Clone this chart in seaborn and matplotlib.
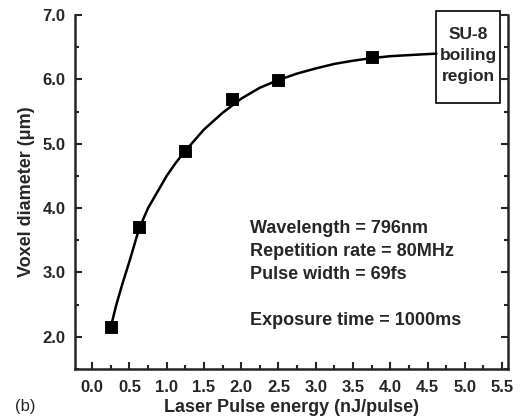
import matplotlib
matplotlib.use("Agg")
import matplotlib.pyplot as plt
from matplotlib.patches import Rectangle
from matplotlib.ticker import MultipleLocator, FormatStrFormatter
import pandas as pd
import seaborn as sns

# measured points
energy = [0.25, 0.63, 1.25, 1.88, 2.5, 3.75]
diameter = [2.15, 3.70, 4.89, 5.69, 5.99, 6.34]

# fitted curve
curve_x = [0.25, 0.32, 0.40, 0.50, 0.63, 0.75, 0.90, 1.00, 1.12, 1.25, 1.50, 1.75,
           2.00, 2.25, 2.50, 2.75, 3.00, 3.25, 3.50, 3.75, 4.00, 4.30, 4.62]
curve_y = [2.15, 2.48, 2.80, 3.17, 3.68, 4.00, 4.30, 4.50, 4.70, 4.89, 5.22, 5.48,
           5.70, 5.87, 5.99, 6.09, 6.17, 6.24, 6.29, 6.33, 6.36, 6.38, 6.40]

params_text = ("Wavelength = 796nm\nRepetition rate = 80MHz\n"
               "Pulse width = 69fs\n\nExposure time = 1000ms")

sns.set_style("ticks")
plt.rcParams['font.family'] = ['Liberation Sans', 'DejaVu Sans']

fig = plt.figure(figsize=(5.26, 4.17), dpi=100)
ax = fig.add_axes([75 / 526, 48 / 417, 433 / 526, 354 / 417])

pts = pd.DataFrame({"x": energy, "y": diameter})
fit = pd.DataFrame({"x": curve_x, "y": curve_y})

sns.lineplot(data=fit, x="x", y="y", ax=ax, color="black", linewidth=1.8, sort=True)
sns.scatterplot(data=pts, x="x", y="y", ax=ax, marker="s", s=65, color="black",
                edgecolor="black", zorder=5)

ax.set_xlim(-0.23, 5.58)
ax.set_ylim(1.5, 7.0)
ax.xaxis.set_major_locator(MultipleLocator(0.5))
ax.xaxis.set_minor_locator(MultipleLocator(0.25))
ax.yaxis.set_major_locator(MultipleLocator(1.0))
ax.yaxis.set_minor_locator(MultipleLocator(0.5))
ax.xaxis.set_major_formatter(FormatStrFormatter("%.1f"))
ax.yaxis.set_major_formatter(FormatStrFormatter("%.1f"))

ax.tick_params(which="both", direction="in", right=True, top=False, width=1.5,
               labelsize=12)
ax.tick_params(which="major", length=5)
ax.tick_params(which="minor", length=3)
ax.tick_params(axis="x", which="major", pad=8)
ax.tick_params(axis="y", which="major", pad=7)
for lab in ax.get_xticklabels() + ax.get_yticklabels():
    lab.set_fontweight("bold")

for side in ["left", "right", "bottom"]:
    ax.spines[side].set_linewidth(1.8)
ax.spines["top"].set_visible(False)

ax.set_xlabel("Laser Pulse energy (nJ/pulse)", fontsize=13, fontweight="bold",
              labelpad=3)
ax.set_ylabel("Voxel diameter (\u03bcm)", fontsize=13, fontweight="bold",
              labelpad=5)

ax.text(2.12, 3.82, params_text, fontsize=13, fontweight="bold", va="top",
        ha="left", linespacing=1.47)

ax.add_patch(Rectangle((4.62, 5.64), 0.85, 1.42, fill=False, edgecolor="black",
                       linewidth=1.2, clip_on=False, zorder=6))
ax.text(5.045, 6.37, "SU-8\nboiling\nregion", fontsize=12.5, fontweight="bold",
        ha="center", va="center", linespacing=1.5)

fig.text(15 / 526, 1 - 407 / 417, "(b)", fontsize=12, va="center", ha="left")

fig.savefig("out.png", dpi=100)
